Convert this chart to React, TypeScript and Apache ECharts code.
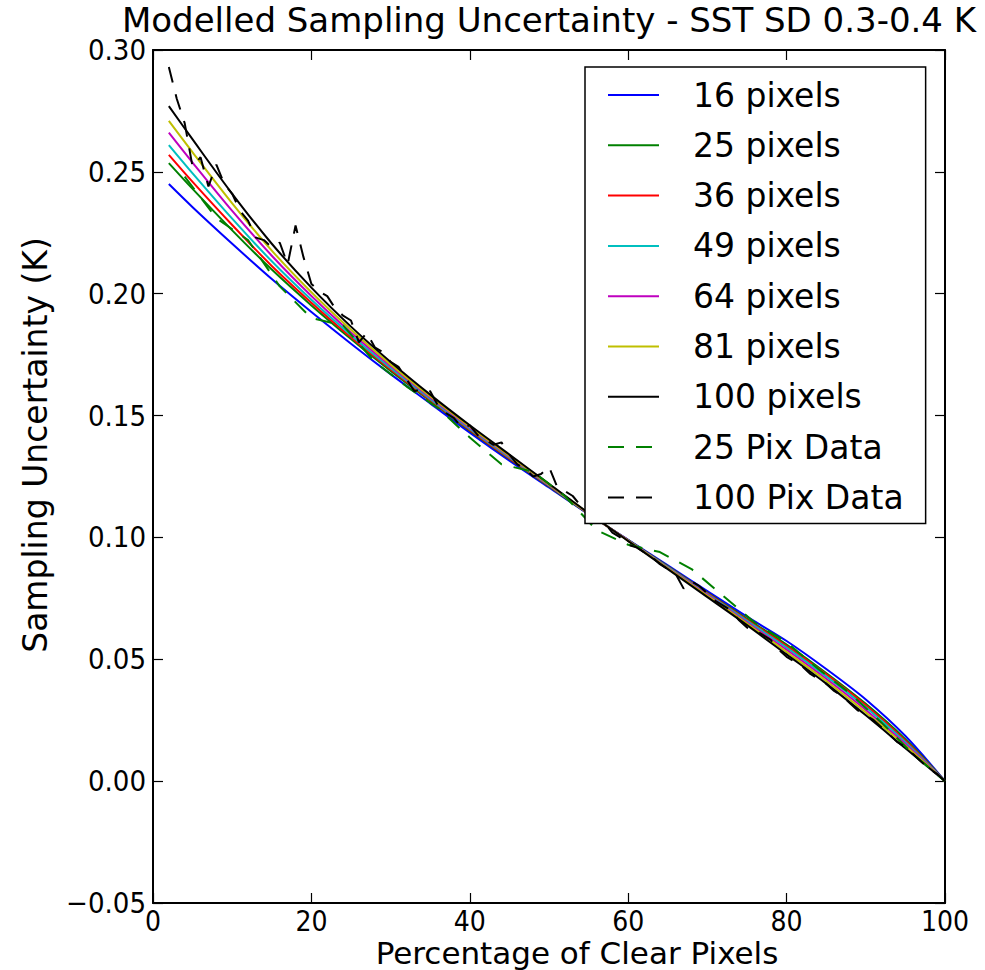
import React, { useEffect, useRef } from "react";
import * as echarts from "echarts";

// Modelled curves, sampled on a coarse grid of % clear pixels
const xCurve = [2, 5, 10, 15, 20, 25, 30, 35, 40, 45, 50, 55, 60, 65, 70, 75, 80, 85, 90, 95, 100];
const curve16 = [0.245, 0.2355, 0.2205, 0.206, 0.1925, 0.1795, 0.167, 0.155, 0.143, 0.1315, 0.1205, 0.1095, 0.099, 0.0885, 0.078, 0.0675, 0.0575, 0.046, 0.0335, 0.0185, 0];
const curve25 = [0.2536, 0.243, 0.226, 0.2099, 0.1952, 0.1814, 0.1683, 0.156, 0.1438, 0.1322, 0.1209, 0.1096, 0.0989, 0.0881, 0.0773, 0.0666, 0.056, 0.0444, 0.0317, 0.0172, 0];
const curve36 = [0.257, 0.2459, 0.2282, 0.2114, 0.1963, 0.1821, 0.1689, 0.1564, 0.1441, 0.1324, 0.1211, 0.1097, 0.0988, 0.0879, 0.0771, 0.0662, 0.0554, 0.0438, 0.0311, 0.0166, 0];
const curve49 = [0.261, 0.2494, 0.2308, 0.2133, 0.1975, 0.183, 0.1695, 0.1568, 0.1445, 0.1328, 0.1213, 0.1098, 0.0988, 0.0878, 0.0768, 0.0658, 0.0548, 0.043, 0.0303, 0.016, 0];
const curve64 = [0.2661, 0.2538, 0.234, 0.2156, 0.1991, 0.1841, 0.1703, 0.1574, 0.145, 0.1332, 0.1215, 0.1098, 0.0987, 0.0875, 0.0764, 0.0652, 0.0539, 0.042, 0.0292, 0.0152, 0];
const curve81 = [0.2709, 0.258, 0.2371, 0.2177, 0.2006, 0.1852, 0.171, 0.1579, 0.1454, 0.1335, 0.1217, 0.1099, 0.0986, 0.0873, 0.076, 0.0647, 0.053, 0.0411, 0.0282, 0.0145, 0];
const curve100 = [0.277, 0.2633, 0.241, 0.2205, 0.2025, 0.1865, 0.172, 0.1586, 0.146, 0.134, 0.122, 0.11, 0.0985, 0.087, 0.0755, 0.064, 0.052, 0.04, 0.027, 0.0135, 0];

// Measured data: 25-pixel boxes (4% steps)
const data25X = [4, 8, 12, 16, 20, 24, 28, 32, 36, 40, 44, 48, 52, 56, 60, 64, 68, 72, 76, 80, 84, 88, 92, 96, 100];
const data25Y = [0.248, 0.231, 0.222, 0.203, 0.19, 0.187, 0.172, 0.162, 0.153, 0.141, 0.13, 0.127, 0.117, 0.103, 0.097, 0.094, 0.087, 0.076, 0.065, 0.057, 0.046, 0.036, 0.024, 0.011, 0];

// Measured data: 100-pixel boxes (1% steps, from 2% to 100%)
const data100X = Array.from({ length: 99 }, (_, i) => i + 2);
const data100Y = [
  0.293, 0.28, 0.27, 0.252, 0.256, 0.244, 0.253, 0.245, 0.241, 0.234,
  0.23, 0.223, 0.222, 0.219, 0.221, 0.212, 0.228, 0.215, 0.204, 0.201,
  0.199, 0.194, 0.191, 0.189, 0.18, 0.184, 0.178, 0.176, 0.172, 0.17,
  0.165, 0.16, 0.161, 0.16, 0.154, 0.151, 0.149, 0.145, 0.146, 0.142,
  0.14, 0.138, 0.139, 0.134, 0.13, 0.128, 0.125, 0.126, 0.129, 0.121,
  0.119, 0.117, 0.113, 0.11, 0.108, 0.106, 0.102, 0.1, 0.097, 0.096,
  0.094, 0.092, 0.089, 0.087, 0.085, 0.079, 0.082, 0.08, 0.077, 0.074,
  0.072, 0.07, 0.066, 0.063, 0.062, 0.06, 0.058, 0.054, 0.051, 0.049,
  0.047, 0.044, 0.042, 0.04, 0.037, 0.035, 0.032, 0.029, 0.027, 0.025,
  0.022, 0.019, 0.016, 0.014, 0.011, 0.008, 0.005, 0.003, 0
];

const curveNames = ["16 pixels", "25 pixels", "36 pixels", "49 pixels", "64 pixels", "81 pixels", "100 pixels"];
const curveValues = [curve16, curve25, curve36, curve49, curve64, curve81, curve100];
const curveColors = ["#0000ff", "#008000", "#ff0000", "#00bfbf", "#bf00bf", "#bfbf00", "#000000"];

const titleText = "Modelled Sampling Uncertainty - SST SD 0.3-0.4 K";
const xName = "Percentage of Clear Pixels";
const yName = "Sampling Uncertainty (K)";

const FONT = "'DejaVu Sans Condensed', 'DejaVu Sans', sans-serif";
const LFONT = "'DejaVu Sans', sans-serif";

const zip = (xs: number[], ys: number[]) => xs.map((x, i) => [x, ys[i]]);

export default function App() {
  const ref = useRef<HTMLDivElement>(null);
  useEffect(() => {
    if (!ref.current) return;
    const chart = echarts.init(ref.current, undefined, { renderer: "svg" });

    const axisCommon = {
      axisLine: { show: true, onZero: false, lineStyle: { color: "#000", width: 2 } },
      axisTick: { show: true, inside: true, length: 10, lineStyle: { color: "#000", width: 1.2 } },
      splitLine: { show: false },
    };

    const series: any[] = curveNames.map((name, i) => ({
      name,
      type: "line",
      data: zip(xCurve, curveValues[i]),
      smooth: 0.3,
      symbol: "none",
      showSymbol: false,
      lineStyle: { color: curveColors[i], width: 2 },
      itemStyle: { color: curveColors[i] },
      z: 2 + i * 0.01,
    }));
    series.push({
      name: "25 Pix Data",
      type: "line",
      data: zip(data25X, data25Y),
      symbol: "none",
      showSymbol: false,
      lineStyle: { color: "#008000", width: 2, type: [16, 12] },
      itemStyle: { color: "#008000" },
      z: 3,
    });
    series.push({
      name: "100 Pix Data",
      type: "line",
      data: zip(data100X, data100Y),
      symbol: "none",
      showSymbol: false,
      lineStyle: { color: "#000000", width: 2, type: [16, 12] },
      itemStyle: { color: "#000000" },
      z: 3.1,
    });

    chart.setOption({
      animation: false,
      backgroundColor: "#ffffff",
      grid: { left: 153, right: 40, top: 50, bottom: 67, containLabel: false },
      xAxis: [
        {
          type: "value", min: 0, max: 100, interval: 20, position: "bottom",
          ...axisCommon,
          axisLabel: { color: "#000", fontSize: 28, fontFamily: FONT, margin: 5, lineHeight: 26 },
        },
        {
          type: "value", min: 0, max: 100, interval: 20, position: "top",
          ...axisCommon,
          axisLabel: { show: false },
        },
      ],
      yAxis: [
        {
          type: "value", min: -0.05, max: 0.3, interval: 0.05, position: "left",
          ...axisCommon,
          axisLabel: {
            color: "#000", fontSize: 29, fontFamily: FONT, margin: 7, lineHeight: 26,
            formatter: (v: number) => (v < -1e-9 ? "\u2212" : "") + Math.abs(v).toFixed(2),
          },
        },
        {
          type: "value", min: -0.05, max: 0.3, interval: 0.05, position: "right",
          ...axisCommon,
          axisLabel: { show: false },
        },
      ],
      legend: {
        orient: "vertical",
        left: 585,
        top: 67,
        data: [...curveNames, "25 Pix Data", "100 Pix Data"],
        backgroundColor: "#ffffff",
        borderColor: "#000000",
        borderWidth: 1.5,
        borderRadius: 0,
        padding: [11, 22, 9, 22],
        itemWidth: 51,
        itemHeight: 14,
        itemGap: 16.3,
        itemStyle: { opacity: 0, borderWidth: 0 },
        textStyle: { color: "#000", fontSize: 33, fontFamily: LFONT, lineHeight: 34, padding: [0, 0, 0, 29] },
        z: 10,
      },
      graphic: [
        {
          type: "text", x: 549, y: 3, z: 10,
          style: { text: titleText, fill: "#000", font: `34px ${LFONT}`, lineHeight: 34, textAlign: "center", textVerticalAlign: "top" },
        },
        {
          type: "text", x: 577, y: 953, z: 10,
          style: { text: xName, fill: "#000", font: `31px ${LFONT}`, lineHeight: 31, textAlign: "center", textVerticalAlign: "middle" },
        },
        {
          type: "text", x: 35, y: 445, rotation: Math.PI / 2, z: 10,
          style: { text: yName, fill: "#000", font: `33px ${LFONT}`, lineHeight: 33, textAlign: "center", textVerticalAlign: "middle" },
        },
      ],
      series,
    });
    return () => chart.dispose();
  }, []);
  return <div ref={ref} style={{ position: "fixed", left: 0, top: 0, width: 985, height: 970 }} />;
}
